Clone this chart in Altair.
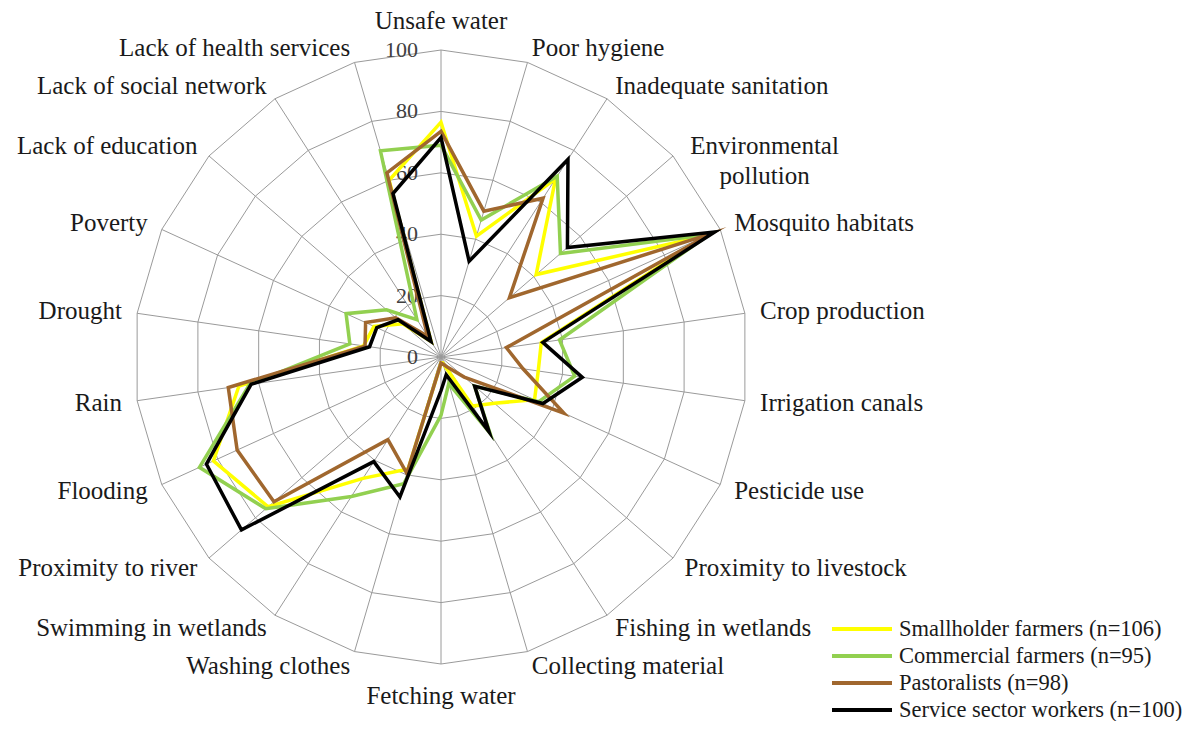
import altair as alt
import pandas as pd

categories = ["Unsafe water", "Poor hygiene", "Inadequate sanitation", "Environmental\npollution",
              "Mosquito habitats", "Crop production", "Irrigation canals", "Pesticide use",
              "Proximity to livestock", "Fishing in wetlands", "Collecting material", "Fetching water",
              "Washing clothes", "Swimming in wetlands", "Proximity to river", "Flooding", "Rain",
              "Drought", "Poverty", "Lack of education", "Lack of social network", "Lack of health services"]

smallholder = [76.5, 41, 69, 41, 95.5, 33, 32, 33.5, 23, 19, 2, 2, 38, 47, 74.5, 81.5, 66.5, 25.5, 24, 16.5, 6, 60]
commercial = [69, 46.5, 70, 51.5, 96, 39, 44, 35, 14.5, 29.5, 9, 19, 43, 54, 75.5, 86.5, 63, 30, 34, 23.5, 14.5, 70]
pastoralists = [73.5, 49.5, 61.5, 29.5, 96.5, 21.5, 27, 44, 10, 4, 2.5, 2, 39.5, 32, 72, 73, 70, 25, 27, 19.5, 8, 62.5]
service = [71.5, 32.5, 76.5, 54.5, 98, 33.5, 46.5, 36.5, 14.5, 29, 6, 11, 47.5, 40.5, 86, 84, 62.5, 23.5, 23, 18.5, 6, 55.5]

series_names = ["Smallholder farmers (n=106)", "Commercial farmers (n=95)",
                "Pastoralists (n=98)", "Service sector workers (n=100)"]
series_colors = ["#FFFF00", "#92D050", "#A0672E", "#000000"]
levels = [0, 20, 40, 60, 80, 100]

n = len(categories)
rows = []
for s, vals in zip(series_names, [smallholder, commercial, pastoralists, service]):
    for i, v in enumerate(vals):
        rows.append({"series": s, "idx": i, "value": v})
series_df = pd.DataFrame(rows)
cat_df = pd.DataFrame({"idx": list(range(n)), "label": categories})
grid_df = pd.DataFrame([{"level": L, "idx": i} for L in levels[1:] for i in range(n)])
tick_df = pd.DataFrame({"level": levels})

PAD_TOP = 5
W, H = 1175, 708
PX = 3.07                 # pixels per value unit
CX, CY = 433, 357 - 8 - PAD_TOP  # centre inside plot area
xs = alt.Scale(domain=[-CX / PX, (W - CX) / PX], nice=False, zero=False)
ys = alt.Scale(domain=[-(H - CY) / PX, CY / PX], nice=False, zero=False)

ang = f"2*PI*datum.idx/{n}"
FONT = "Liberation Serif"

def X(f):
    return alt.X(f, type="quantitative", scale=xs, axis=None)

def Y(f):
    return alt.Y(f, type="quantitative", scale=ys, axis=None)

grid = alt.Chart(grid_df).transform_calculate(
    x=f"datum.level*sin({ang})", y=f"datum.level*cos({ang})"
).mark_line(interpolate="linear-closed", color="#9a9a9a", strokeWidth=1).encode(
    x=X("x"), y=Y("y"), detail="level:N", order="idx:Q")

spokes = alt.Chart(cat_df).transform_calculate(
    x0="0", y0="0", x1=f"100*sin({ang})", y1=f"100*cos({ang})"
).mark_rule(color="#9a9a9a", strokeWidth=1).encode(
    x=X("x0"), y=Y("y0"), x2="x1:Q", y2="y1:Q")

lines = alt.Chart(series_df).transform_calculate(
    x=f"datum.value*sin({ang})", y=f"datum.value*cos({ang})"
).mark_line(interpolate="linear-closed", strokeWidth=3.5, strokeJoin="miter", strokeMiterLimit=10).encode(
    x=X("x"), y=Y("y"),
    color=alt.Color("series:N", scale=alt.Scale(domain=series_names, range=series_colors),
                    legend=alt.Legend(title=None)),
    detail="series:N", order="idx:Q")

lab_base = alt.Chart(cat_df).transform_calculate(
    s=f"sin({ang})", c=f"cos({ang})",
).transform_calculate(
    rl="datum.c > 0.99 ? 109.5 : (datum.c < -0.99 ? 110.5 : 105)"
).transform_calculate(
    x="datum.rl*datum.s", y="datum.rl*datum.c"
)

def lab_layer(filt, align, dx=0):
    return lab_base.transform_filter(filt).mark_text(
        align=align, baseline="middle", font=FONT, fontSize=25, color="#1a1a1a",
        lineBreak="\n", lineHeight=30, dx=dx
    ).encode(x=X("x"), y=Y("y"), text="label:N")

labels_right = lab_layer("datum.s > 0.01 && indexof(datum.label, '\\n') < 0", "left")
labels_multi = lab_layer("datum.s > 0.01 && indexof(datum.label, '\\n') >= 0", "center", dx=80)
labels_left = lab_layer("datum.s < -0.01", "right")
labels_mid = lab_layer("abs(datum.s) <= 0.01", "center")

ticks = alt.Chart(tick_df).transform_calculate(
    x="0", y="datum.level"
).mark_text(align="right", baseline="middle", dx=-23, font=FONT, fontSize=22, color="#404040").encode(
    x=X("x"), y=Y("y"), text="level:Q")

chart = alt.layer(grid, spokes, ticks, lines, labels_right, labels_multi, labels_left, labels_mid).properties(
    width=W, height=H, padding={"top": PAD_TOP, "left": 0, "right": 0, "bottom": 0},
    autosize=alt.AutoSizeParams(type="none")
).configure_view(strokeWidth=0).configure_legend(
    orient="none", legendX=822, legendY=604, symbolType="M-3,0H3", symbolSize=400,
    symbolOffset=20, symbolStrokeWidth=4, labelFont=FONT, labelFontSize=22.5, labelColor="#1a1a1a",
    labelOffset=25, rowPadding=3, labelLimit=400
)

chart.save("out.html", embed_options={"renderer": "svg", "actions": False})
